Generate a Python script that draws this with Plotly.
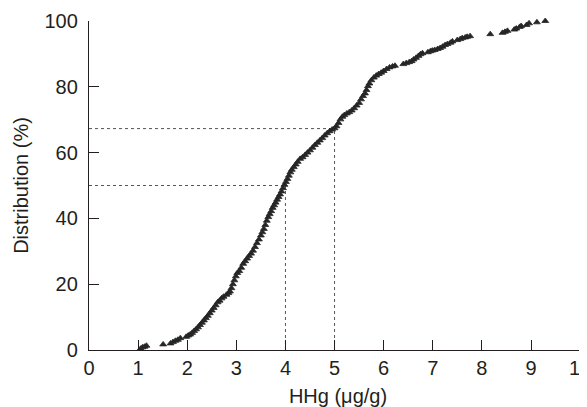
import plotly.graph_objects as go

# Cumulative distribution of hair mercury (HHg, µg/g) vs. distribution (%)
hhg = [1.05, 1.09, 1.13, 1.17, 1.51,
       1.66, 1.71, 1.76, 1.81, 1.86,
       1.98, 2.02, 2.06,
       2.10, 2.14, 2.18, 2.22, 2.26, 2.30, 2.34, 2.38, 2.42, 2.46, 2.50, 2.54, 2.58, 2.62, 2.66, 2.70, 2.74,
       2.80, 2.84, 2.87, 2.90, 2.93, 2.96, 2.99, 3.02, 3.06, 3.10, 3.14, 3.18, 3.22, 3.26, 3.30, 3.34, 3.38,
       3.42, 3.46, 3.50, 3.53, 3.56, 3.59, 3.62, 3.65, 3.68, 3.71, 3.74, 3.77, 3.80, 3.83, 3.86, 3.89, 3.92,
       3.95, 3.98, 4.01, 4.04, 4.07, 4.10, 4.13, 4.17, 4.21, 4.25, 4.30, 4.35, 4.40, 4.45, 4.50, 4.55, 4.60,
       4.65, 4.70, 4.75, 4.80, 4.85, 4.90, 4.95, 5.00, 5.04, 5.08, 5.12, 5.16, 5.20, 5.25, 5.30, 5.35, 5.40,
       5.45, 5.50, 5.54, 5.58, 5.62, 5.65, 5.68, 5.71, 5.75, 5.80, 5.85, 5.90, 5.95, 6.00, 6.06, 6.12, 6.18,
       6.23,
       6.40, 6.46, 6.52, 6.57, 6.61, 6.66, 6.71, 6.75, 6.79, 6.90, 6.95, 6.99, 7.04, 7.10, 7.15, 7.20, 7.25,
       7.30, 7.36, 7.40, 7.50, 7.56, 7.60, 7.66, 7.70, 7.76, 8.17, 8.42, 8.47, 8.52, 8.66, 8.70, 8.77, 8.80,
       8.91, 8.96, 9.12, 9.29]
distribution = [0.4, 0.8, 1.0, 1.3, 1.7,
                2.0, 2.4, 2.8, 3.1, 3.6,
                4.0, 4.4, 4.7,
                5.2, 5.8, 6.3, 6.9, 7.6, 8.3, 9.0, 9.7, 10.4, 11.2, 12.0, 12.8, 13.6, 14.5, 15.0, 15.7, 16.2,
                16.8, 17.3, 17.8, 18.8, 20.0, 21.2, 22.4, 23.4, 24.0, 25.0, 26.2, 27.0, 27.8, 28.6, 29.3, 30.2, 31.3,
                32.5, 33.6, 34.8, 35.8, 36.8, 38.0, 39.3, 40.4, 41.3, 42.2, 43.2, 44.0, 44.8, 45.7, 46.5, 47.3, 48.2,
                49.2, 50.2, 51.1, 52.0, 53.0, 54.0, 54.8, 55.6, 56.4, 57.2, 58.1, 58.6, 59.3, 60.0, 60.7, 61.5, 62.3,
                63.0, 63.7, 64.4, 65.2, 65.9, 66.5, 67.0, 67.4, 68.0, 69.0, 70.1, 70.9, 71.4, 71.9, 72.3, 72.8, 73.5,
                74.3, 75.1, 76.2, 77.2, 78.0, 79.0, 80.2, 81.0, 82.0, 82.8, 83.4, 83.9, 84.3, 84.8, 85.4, 85.9, 86.2,
                86.4,
                86.9, 87.2, 87.5, 87.8, 88.3, 88.8, 89.4, 89.9, 90.2, 90.5, 90.8, 91.0, 91.2, 91.5, 91.8, 92.2, 92.7,
                93.0, 93.4, 93.8, 94.2, 94.5, 94.8, 95.0, 95.2, 95.4, 96.0, 96.4, 96.7, 97.0, 97.4, 97.7, 98.2, 98.5,
                98.8, 99.3, 99.6, 100.0]

ref_x = [4, 5]          # reference HHg values
ref_y = [50, 67.3]      # corresponding distribution (%)

x_ticks = list(range(0, 11))
y_ticks = [0, 20, 40, 60, 80, 100]

ink = "#231f20"
font = "Liberation Sans, Arial, Helvetica, sans-serif"

fig = go.Figure()

fig.add_trace(go.Scatter(
    x=hhg, y=distribution, mode="markers",
    marker=dict(symbol="triangle-up", size=6, color="#262626",
                line=dict(color="#262626", width=0.8)),
    cliponaxis=False, showlegend=False, hoverinfo="skip"))

for rx, ry in zip(ref_x, ref_y):
    fig.add_shape(type="line", xref="x", yref="y", x0=0, x1=rx, y0=ry, y1=ry,
                  line=dict(color="#555555", width=1, dash="dot"), layer="below")
    fig.add_shape(type="line", xref="x", yref="y", x0=rx, x1=rx, y0=0, y1=ry,
                  line=dict(color="#555555", width=1, dash="dot"), layer="below")

# page body adds an 8px offset, so the figure is sized to fill the rest of the window
fig.update_layout(
    width=579, height=399,
    margin=dict(l=81, r=0, t=13, b=57, autoexpand=False),
    paper_bgcolor="white", plot_bgcolor="white",
    font=dict(family=font, size=20, color=ink),
    showlegend=False,
)

fig.update_xaxes(
    range=[0, 10.14], tickvals=x_ticks, ticktext=[str(v) for v in x_ticks],
    showgrid=False, zeroline=False, automargin=False,
    showline=True, linecolor=ink, linewidth=1.3,
    ticks="inside", ticklen=10, tickwidth=1.3, tickcolor=ink,
    ticklabelstandoff=0, ticklabeloverflow="allow",
    title=dict(text="HHg (μg/g)", font=dict(size=20, color=ink), standoff=11),
)
fig.update_yaxes(
    range=[0, 100], tickvals=y_ticks, ticktext=[str(v) for v in y_ticks],
    showgrid=False, zeroline=False, automargin=False,
    showline=True, linecolor=ink, linewidth=1.3,
    ticks="inside", ticklen=10, tickwidth=1.3, tickcolor=ink,
    ticklabelstandoff=6, ticklabeloverflow="allow",
    title=dict(text="Distribution (%)", font=dict(size=20, color=ink), standoff=10),
)

fig.write_html("out.html")
